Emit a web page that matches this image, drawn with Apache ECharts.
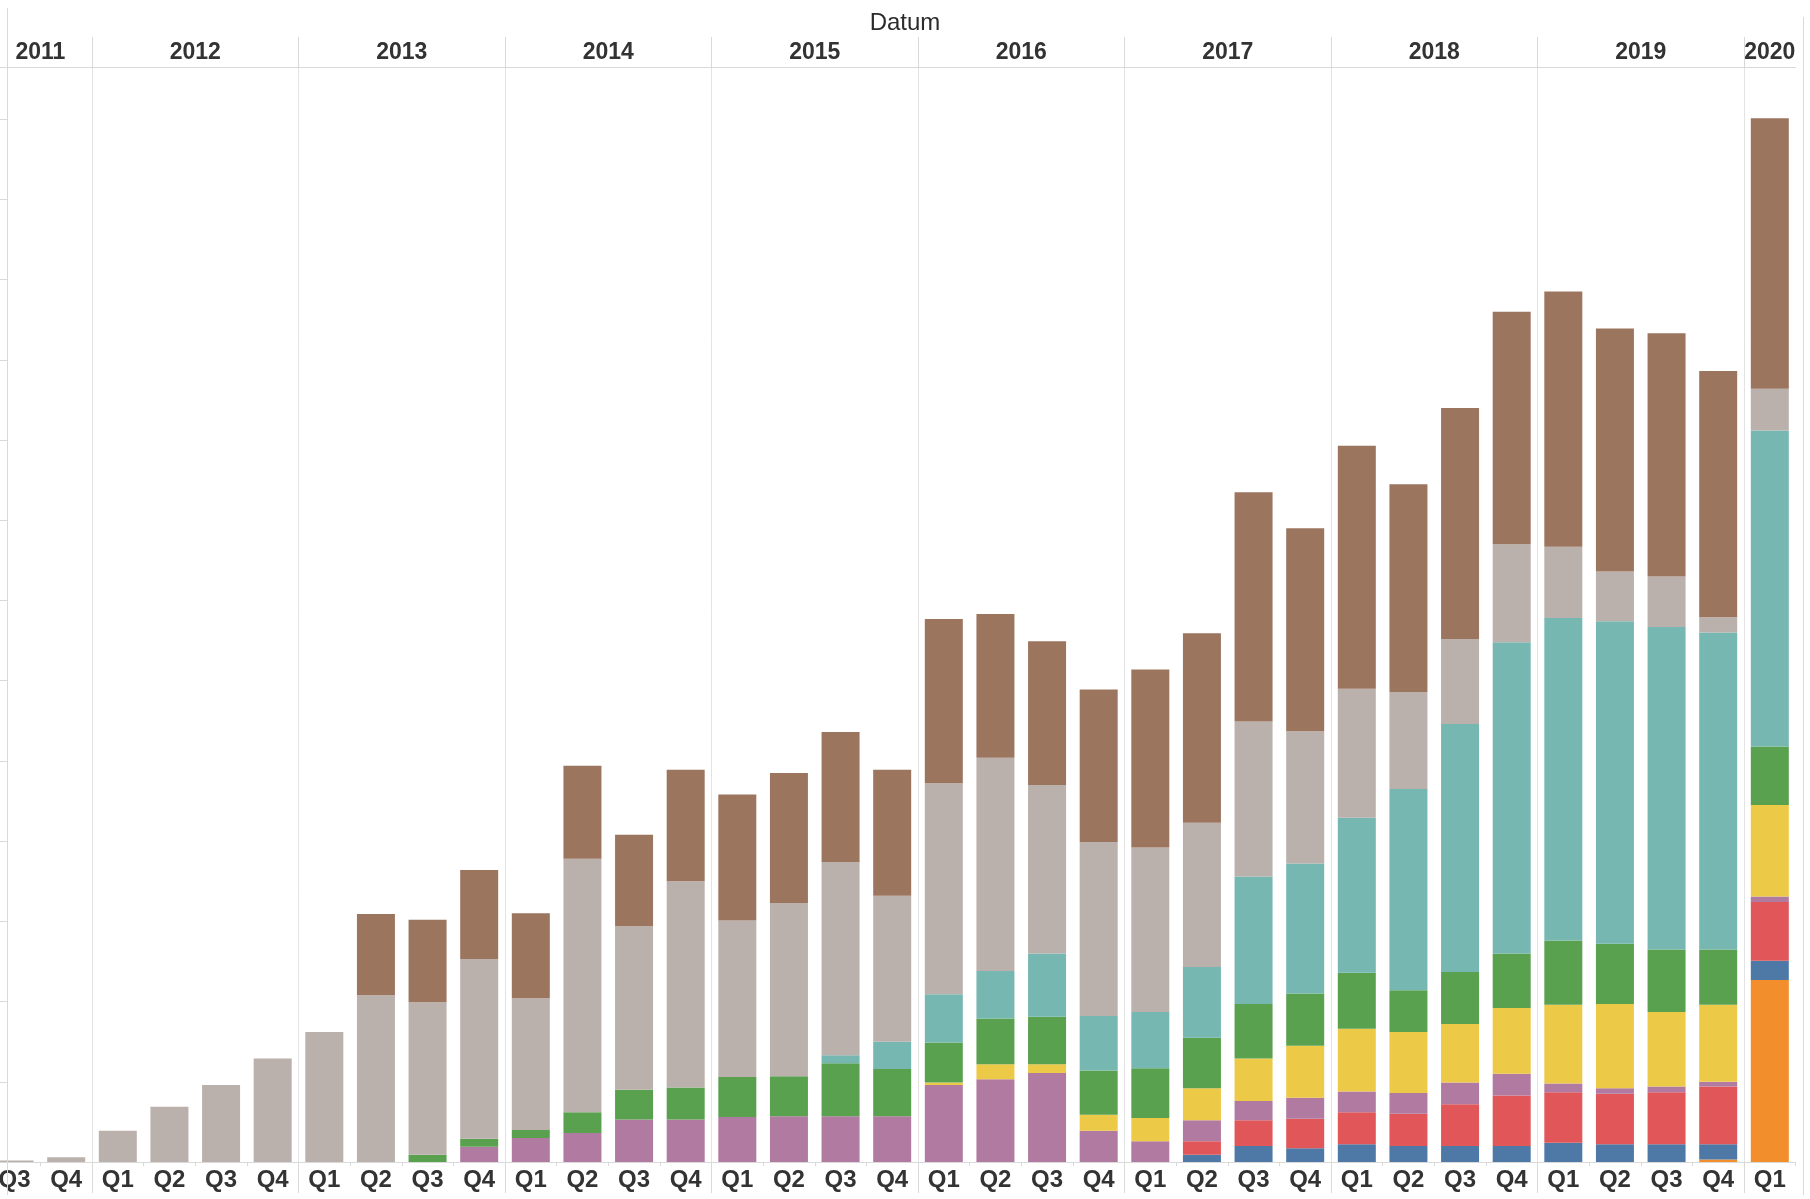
<!DOCTYPE html>
<html>
<head>
<meta charset="utf-8">
<script src="https://cdn.jsdelivr.net/npm/echarts@6/dist/echarts.min.js"></script>
<style>
html,body{margin:0;padding:0;background:#fff;}
#chart{width:1810px;height:1199px;}
</style>
</head>
<body>
<div id="chart"></div>
<script>
// ---- data ----
const categories = [
  '2011 Q3','2011 Q4',
  '2012 Q1','2012 Q2','2012 Q3','2012 Q4',
  '2013 Q1','2013 Q2','2013 Q3','2013 Q4',
  '2014 Q1','2014 Q2','2014 Q3','2014 Q4',
  '2015 Q1','2015 Q2','2015 Q3','2015 Q4',
  '2016 Q1','2016 Q2','2016 Q3','2016 Q4',
  '2017 Q1','2017 Q2','2017 Q3','2017 Q4',
  '2018 Q1','2018 Q2','2018 Q3','2018 Q4',
  '2019 Q1','2019 Q2','2019 Q3','2019 Q4',
  '2020 Q1'
];
const yTicks = [0,100,200,300,400,500,600,700,800,900,1000,1100,1200,1300];

const orangeVals = [0,0,0,0,0,0,0,0,0,0,0,0,0,0,0,0,0,0,0,0,0,0,0,0,0,0,0,0,0,0,0,0,0,3,227];
const blueVals   = [0,0,0,0,0,0,0,0,0,0,0,0,0,0,0,0,0,0,0,0,0,0,0,9,20,17,22,20,20,20,24,22,22,19,24];
const redVals    = [0,0,0,0,0,0,0,0,0,0,0,0,0,0,0,0,0,0,0,0,0,0,0,17,32,37,40,40,52,63,63,63,65,72,73];
const purpleVals = [0,0,0,0,0,0,0,0,0,19,30,36,53,53,56,57,57,57,96,103,111,39,26,26,24,26,26,26,27,27,11,7,7,6,7];
const yellowVals = [0,0,0,0,0,0,0,0,0,0,0,0,0,0,0,0,0,0,3,19,11,20,29,40,53,65,78,76,73,82,98,105,93,96,114];
const greenVals  = [0,0,0,0,0,0,0,0,9,10,10,26,37,40,50,50,66,59,50,57,59,55,62,63,68,65,70,52,65,68,80,75,78,69,73];
const tealVals   = [0,0,0,0,0,0,0,0,0,0,0,0,0,0,0,0,10,34,60,59,79,68,70,88,159,162,193,251,309,388,402,402,402,395,394];
const grayVals   = [2,6,39,69,96,129,162,208,190,224,164,316,204,257,195,216,241,182,263,266,210,217,205,180,193,165,161,121,106,122,89,62,63,19,52];
const brownVals  = [0,0,0,0,0,0,0,101,103,111,106,116,114,139,157,162,162,157,205,179,179,190,222,236,286,253,303,259,288,290,318,303,303,307,337];

// ---- derived axis helpers (from categories) ----
const yearOf = c => c.split(' ')[0];
const quarterOf = c => c.split(' ')[1];
const years = [];
const yearStarts = [];
const yearCenters = [];
categories.forEach((c, i) => {
  const y = yearOf(c);
  if (years.length === 0 || years[years.length - 1] !== y) {
    years.push(y);
    yearStarts.push(i);
  }
});
years.forEach((y, k) => {
  const start = yearStarts[k];
  const end = k + 1 < yearStarts.length ? yearStarts[k + 1] : categories.length;
  yearCenters.push(start + (end - start) / 2);
});
const innerYearStarts = yearStarts.filter(v => v > 0);

const seriesDefs = [
  {name: 'Gruppe 1', color: '#f28e2b', data: orangeVals},
  {name: 'Gruppe 2', color: '#4e79a7', data: blueVals},
  {name: 'Gruppe 3', color: '#e15759', data: redVals},
  {name: 'Gruppe 4', color: '#b07aa1', data: purpleVals},
  {name: 'Gruppe 5', color: '#edc948', data: yellowVals},
  {name: 'Gruppe 6', color: '#59a14f', data: greenVals},
  {name: 'Gruppe 7', color: '#76b7b2', data: tealVals},
  {name: 'Gruppe 8', color: '#bab0ac', data: grayVals},
  {name: 'Gruppe 9', color: '#9c755f', data: brownVals}
];

const FONT = '"Liberation Sans", Arial, sans-serif';
const LINE = '#d9d9d9';
const nCat = categories.length;

const chart = echarts.init(document.getElementById('chart'), null, {renderer: 'canvas'});
chart.setOption({
  animation: false,
  backgroundColor: '#ffffff',
  title: {
    text: 'Datum',
    left: 'center',
    top: 6,
    textStyle: {fontFamily: FONT, fontSize: 24, fontWeight: 'normal', color: '#2b2b2b'}
  },
  grid: {
    left: -11.25,
    width: 51.625 * 35,
    top: 67,
    bottom: 37,
    containLabel: false,
    outerBoundsMode: 'none'
  },
  xAxis: [
    {
      type: 'category',
      position: 'bottom',
      data: categories,
      axisLine: {show: true, lineStyle: {color: LINE, width: 1}},
      axisTick: {show: true, interval: 0, length: 4, lineStyle: {color: LINE}},
      axisLabel: {
        interval: 0,
        margin: 6,
        fontFamily: FONT, fontSize: 24, fontWeight: 'bold', color: '#333',
        formatter: v => quarterOf(v)
      },
      splitLine: {show: false}
    },
    {
      type: 'value',
      position: 'bottom',
      min: 0,
      max: nCat,
      axisLine: {show: false},
      axisTick: {show: true, customValues: innerYearStarts, length: 31, lineStyle: {color: LINE}},
      axisLabel: {show: false},
      splitLine: {show: false}
    },
    {
      type: 'value',
      position: 'top',
      min: 0,
      max: nCat,
      axisLine: {show: true, lineStyle: {color: LINE, width: 1}},
      axisTick: {show: true, customValues: innerYearStarts, length: 30, lineStyle: {color: LINE}},
      axisLabel: {
        show: true,
        customValues: yearCenters,
        margin: 3,
        fontFamily: FONT, fontSize: 23, fontWeight: 'bold', color: '#333',
        formatter: v => {
          const k = yearCenters.indexOf(v);
          return k >= 0 ? years[k] : '';
        }
      },
      splitLine: {show: true, lineStyle: {color: '#e3e3e3', width: 1}}
    }
  ],
  yAxis: {
    type: 'value',
    min: 0,
    max: 1365,
    interval: 100,
    offset: -18.25,
    axisLine: {show: false},
    axisTick: {show: true, customValues: yTicks, length: 7, lineStyle: {color: LINE}},
    axisLabel: {show: false},
    splitLine: {show: false}
  },
  graphic: [
    {type: 'line', shape: {x1: 7.5, y1: 8, x2: 7.5, y2: 1195}, style: {stroke: LINE, lineWidth: 1}, z: 10},
    {type: 'line', shape: {x1: 1803.5, y1: 17, x2: 1803.5, y2: 1195}, style: {stroke: LINE, lineWidth: 1}, z: 10}
  ],
  series: seriesDefs.map(s => ({
    name: s.name,
    type: 'bar',
    stack: 'total',
    xAxisIndex: 0,
    yAxisIndex: 0,
    barWidth: 38,
    data: s.data,
    itemStyle: {color: s.color},
    emphasis: {disabled: true}
  }))
});
</script>
</body>
</html>
